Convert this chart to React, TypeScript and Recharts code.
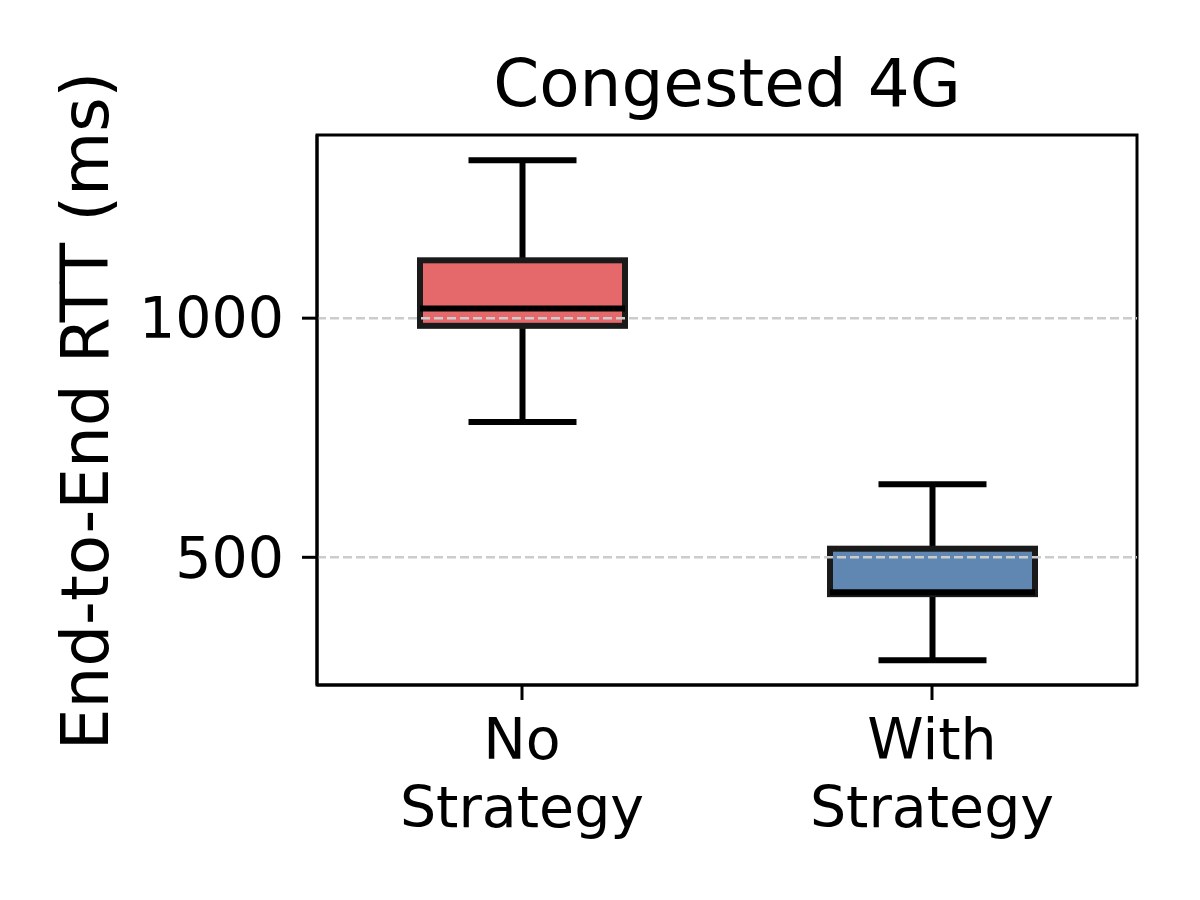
import { ComposedChart, Bar, XAxis, YAxis, ReferenceArea, ReferenceLine, Customized } from 'recharts';

const groups = ['No\nStrategy', 'With\nStrategy'];
const lowWhisker = [783, 285];
const q1 = [984, 423];
const median = [1020, 427];
const q3 = [1121, 518];
const highWhisker = [1330, 653];
const boxColors = ['#e5686b', '#5f87b1'];
const yTicks = [500, 1000];
const yDomain = [233, 1383];

const data = groups.map((g, i) => ({
  group: g,
  range: [lowWhisker[i], highWhisker[i]],
  q1: q1[i],
  median: median[i],
  q3: q3[i],
  color: boxColors[i],
}));

const FONT = '"DejaVu Sans", sans-serif';

const BoxShape = (props: any) => {
  const { x, y, width, height, payload } = props;
  const [lo, hi] = payload.range;
  const toY = (v: number) => y + (height * (hi - v)) / (hi - lo);
  const cx = x + width / 2;
  const capHalf = 54;
  const boxTop = toY(payload.q3);
  const boxBottom = toY(payload.q1);
  return (
    <g>
      <line x1={cx} x2={cx} y1={y} y2={boxTop} stroke="#000" strokeWidth={6} />
      <line x1={cx} x2={cx} y1={boxBottom} y2={y + height} stroke="#000" strokeWidth={6} />
      <line x1={cx - capHalf} x2={cx + capHalf} y1={y} y2={y} stroke="#000" strokeWidth={6} />
      <line x1={cx - capHalf} x2={cx + capHalf} y1={y + height} y2={y + height} stroke="#000" strokeWidth={6} />
      <rect
        x={x}
        y={boxTop}
        width={width}
        height={boxBottom - boxTop}
        fill={payload.color}
        stroke="#1a1a1a"
        strokeWidth={6}
      />
      <line x1={x} x2={x + width} y1={toY(payload.median)} y2={toY(payload.median)} stroke="#000" strokeWidth={6} />
    </g>
  );
};

const XTick = (props: any) => {
  const { x, y, payload } = props;
  const lines = String(payload.value).split('\n');
  return (
    <text x={x} y={y} textAnchor="middle" fontSize={57} fontFamily={FONT} fill="#000">
      {lines.map((l, i) => (
        <tspan key={i} x={x} dy={i === 0 ? 59 : 68}>
          {l}
        </tspan>
      ))}
    </text>
  );
};

const YLabel = (props: any) => {
  const vb = props.viewBox;
  const cy = vb.y + vb.height / 2 + 1;
  return (
    <text
      x={108}
      y={cy}
      transform={`rotate(-90, 108, ${cy})`}
      textAnchor="middle"
      fontSize={66}
      fontFamily={FONT}
      fill="#000"
    >
      End-to-End RTT (ms)
    </text>
  );
};

const Title = () => (
  <text x={727} y={106} textAnchor="middle" fontSize={66} fontFamily={FONT} fill="#000">
    Congested 4G
  </text>
);

export default function App() {
  return (
    <div style={{ position: 'absolute', left: 0, top: 0, width: 1200, height: 900, background: '#fff' }}>
      <ComposedChart
        width={1200}
        height={900}
        data={data}
        margin={{ top: 135, right: 63, bottom: 0, left: 0 }}
        barCategoryGap={0}
      >
        {yTicks.map((t) => (
          <ReferenceLine key={t} y={t} stroke="#cccccc" strokeWidth={2.5} strokeDasharray="9 4" />
        ))}
        <XAxis
          dataKey="group"
          height={215}
          interval={0}
          axisLine={{ stroke: '#000', strokeWidth: 3 }}
          tickLine={{ stroke: '#000', strokeWidth: 3 }}
          tickSize={15}
          tickMargin={0}
          tick={<XTick />}
        />
        <YAxis
          width={317}
          domain={yDomain}
          ticks={yTicks}
          allowDataOverflow
          axisLine={{ stroke: '#000', strokeWidth: 3 }}
          tickLine={{ stroke: '#000', strokeWidth: 3 }}
          tickSize={15}
          tickMargin={18}
          tick={{ fontSize: 57, fontFamily: FONT, fill: '#000' }}
          label={<YLabel />}
        />
        <ReferenceArea
          x1={groups[0]}
          x2={groups[1]}
          y1={yDomain[0]}
          y2={yDomain[1]}
          fill="none"
          fillOpacity={0}
          stroke="#000"
          strokeWidth={3}
          ifOverflow="visible"
        />
        <Bar dataKey="range" barSize={205} shape={<BoxShape />} isAnimationActive={false} />
        <Customized component={Title} />
      </ComposedChart>
    </div>
  );
}
